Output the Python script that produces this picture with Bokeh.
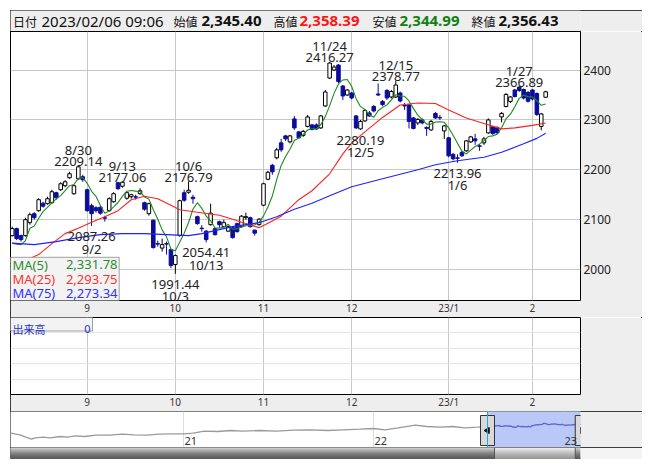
import math
import pandas as pd
from bokeh.plotting import figure
from bokeh.layouts import column
from bokeh.models import Range1d, FixedTicker, ColumnDataSource, Span
from bokeh.core.properties import value
from bokeh.embed import file_html
from bokeh.resources import INLINE

# ---------------- data ----------------
dates = [
 "2022-08-08","2022-08-09","2022-08-10","2022-08-12","2022-08-15","2022-08-16","2022-08-17","2022-08-18","2022-08-19",
 "2022-08-22","2022-08-23","2022-08-24","2022-08-25","2022-08-26","2022-08-29","2022-08-30","2022-08-31",
 "2022-09-01","2022-09-02","2022-09-05","2022-09-06","2022-09-07","2022-09-08","2022-09-09","2022-09-12","2022-09-13",
 "2022-09-14","2022-09-15","2022-09-16","2022-09-20","2022-09-21","2022-09-22","2022-09-26","2022-09-27","2022-09-28",
 "2022-09-29","2022-09-30",
 "2022-10-03","2022-10-04","2022-10-05","2022-10-06","2022-10-07","2022-10-11","2022-10-12","2022-10-13","2022-10-14",
 "2022-10-17","2022-10-18","2022-10-19","2022-10-20","2022-10-21","2022-10-24","2022-10-25","2022-10-26","2022-10-27",
 "2022-10-28","2022-10-31",
 "2022-11-01","2022-11-02","2022-11-04","2022-11-07","2022-11-08","2022-11-09","2022-11-10","2022-11-11","2022-11-14",
 "2022-11-15","2022-11-16","2022-11-17","2022-11-18","2022-11-21","2022-11-22","2022-11-24","2022-11-25","2022-11-28",
 "2022-11-29","2022-11-30",
 "2022-12-01","2022-12-02","2022-12-05","2022-12-06","2022-12-07","2022-12-08","2022-12-09","2022-12-12","2022-12-13",
 "2022-12-14","2022-12-15","2022-12-16","2022-12-19","2022-12-20","2022-12-21","2022-12-22","2022-12-23","2022-12-26",
 "2022-12-27","2022-12-28","2022-12-29","2022-12-30",
 "2023-01-04","2023-01-05","2023-01-06","2023-01-10","2023-01-11","2023-01-12","2023-01-13","2023-01-16","2023-01-17",
 "2023-01-18","2023-01-19","2023-01-20","2023-01-23","2023-01-24","2023-01-25","2023-01-26","2023-01-27","2023-01-30",
 "2023-01-31",
 "2023-02-01","2023-02-02","2023-02-03","2023-02-06",
]

opens = [2068,2082,2068,2068,2094,2112,2118,2133,2132,2134,2154,2160,2168,2184,2152,2182,2186,
 2160,2128,2124,2125,2104,2118,2136,2174,2167,2143,2146,2146,2152,2134,2112,2099,2052,2043,2052,2040,
 2010,2068,2154,2155,2145,2106,2083,2077,2090,2082,2096,2086,2077,2084,2092,2086,2104,2104,2079,2090,
 2129,2181,2209,2224,2254,2268,2256,2302,2276,2269,2287,2290,2290,2284,2328,2384,2400,2410,2368,2350,
 2354,2308,2282,2298,2314,2327,2352,2337,2359,2346,2346,2354,2329,2330,2304,2294,2300,2285,2280,2313,2305,2278,
 2264,2231,2224,2235,2238,2256,2262,2248,2254,2274,2286,2285,2306,2327,2337,2360,2366,2361,2355,
 2360,2353,2287,2345.40]
highs = [2086,2084,2070,2104,2114,2115,2143,2136,2146,2160,2156,2175,2179,2196,2170,2209.14,2190,
 2162,2132,2127,2128,2108,2145,2155,2176,2177.06,2156,2152,2150,2163,2136,2134,2100,2058,2062,2056,2042,
 2030,2140,2160,2176.79,2150,2108,2089,2079,2132,2084,2098,2100,2088,2086,2094,2109,2114,2106,2080,2103,
 2174,2198,2212,2244,2262,2270,2270,2308,2278,2280,2310,2292,2293,2310,2360,2416.27,2410,2412,2370,2362,
 2356,2310,2300,2322,2318,2330,2373,2340,2362,2360,2378.77,2357,2334,2332,2306,2304,2303,2287,2300,2316,2310,2290,
 2266,2234,2231,2238,2260,2268,2272,2252,2266,2303,2288,2287,2316,2354,2348,2362,2366.89,2363,2358,
 2362,2355,2314,2358.39]
lows = [2066,2059,2056,2066,2090,2100,2116,2124,2130,2132,2140,2158,2165,2182,2150,2180,2176,
 2116,2087.26,2114,2110,2096,2116,2134,2160,2164,2140,2142,2140,2150,2118,2108,2042,2046,2036,2030,2003,
 1991.44,2066,2136,2152,2132,2090,2076,2054.41,2088,2068,2084,2084,2075,2062,2074,2084,2100,2084,2068,2088,
 2127,2179,2190,2221,2236,2258,2253,2280,2262,2266,2285,2279,2280,2282,2326,2382,2398,2374,2340,2348,
 2341,2282,2280.19,2296,2306,2315,2348,2328,2340,2343,2344,2335,2320,2283,2281,2290,2291,2268,2278,2302,2300,2262,
 2225,2219,2213.96,2226,2236,2254,2250,2238,2250,2272,2270,2272,2295,2325,2334,2345,2356,2341,2335,
 2339,2308,2279,2344.99]
closes = [2082,2062,2060,2100,2110,2104,2140,2127,2142,2156,2144,2172,2176,2192,2168,2206,2180,
 2118,2112,2118,2113,2103,2142,2152,2162,2175,2154,2150,2145,2158,2121,2132,2044,2051,2050,2051,2008,
 2028,2138,2139,2159,2142,2092,2082,2060,2113,2070,2090,2094,2086,2064,2076,2107,2106,2086,2073,2101,
 2172,2195,2196,2240,2240,2262,2268,2284,2264,2277,2306,2281,2282,2308,2356,2414,2406,2377,2348,2360,
 2344,2284,2297,2319,2308,2318,2350,2331,2344,2357,2370,2338,2328,2297,2283,2301,2294,2283,2297,2304,2304,2288,
 2228,2222,2223,2228,2258,2266,2258,2247,2262,2300,2273,2274,2313,2351,2346,2347,2359,2344,2337.45,
 2342,2311,2312,2356.43]
quote_time = "09:06"

# MA(5) for the first four sessions (its history lies before the window)
ma5_head = [2053, 2051, 2050, 2058]
ma25_dates = ["2022-08-08","2022-08-12","2022-08-17","2022-08-22","2022-08-25","2022-08-30","2022-09-02","2022-09-07",
 "2022-09-12","2022-09-15","2022-09-21","2022-09-27","2022-09-30","2022-10-04","2022-10-11","2022-10-18","2022-10-21",
 "2022-10-26","2022-10-31","2022-11-02","2022-11-08","2022-11-14","2022-11-17","2022-11-24","2022-11-29","2022-12-01",
 "2022-12-06","2022-12-12","2022-12-16","2022-12-22","2022-12-28","2023-01-04","2023-01-11","2023-01-17","2023-01-23",
 "2023-01-26","2023-02-01","2023-02-06"]
ma25_vals = [2005,2018,2030,2052,2072,2083,2095,2106,2118,2140,2147,2142,2129,2120,2115,2109,2101,
 2092,2084,2093,2107,2140,2158,2192,2232,2254,2276,2305,2330,2334,2333,2320,2304,2293,2282,2284,2289,2293.75]
ma75_dates = ["2022-08-08","2022-08-16","2022-08-23","2022-08-30","2022-09-06","2022-09-13","2022-09-21","2022-09-29",
 "2022-10-06","2022-10-12","2022-10-18","2022-10-21","2022-10-31","2022-11-07","2022-11-11","2022-11-17","2022-11-24",
 "2022-12-01","2022-12-12","2022-12-16","2022-12-22","2022-12-28","2023-01-06","2023-01-17","2023-01-23","2023-01-30",
 "2023-02-02","2023-02-06"]
ma75_vals = [2053,2050,2056,2064,2070,2072,2072,2070,2068,2072,2080,2086,2094,2106,2121,2133,2148,
 2166,2182,2191,2200,2210,2218,2225,2235,2252,2263,2273.34]

hi_marks = ["2022-08-30","2022-09-13","2022-10-06","2022-11-24","2022-12-15","2023-01-27"]
lo_marks = ["2022-09-02","2022-10-03","2022-10-13","2022-12-05","2023-01-06"]

# navigator history (year, level) before the displayed window
nav_years = [2020.09,2020.14,2020.17,2020.20,2020.22,2020.26,2020.30,2020.35,2020.39,2020.43,2020.48,2020.54,
 2020.61,2020.68,2020.74,2020.81,2020.87,2020.94,2021.00,2021.05,2021.11,2021.18,2021.25,2021.31,2021.40,
 2021.49,2021.58,2021.67,2021.76,2021.84,2021.93,2022.00,2022.06,2022.13,2022.22,2022.28,2022.35,2022.42,
 2022.48,2022.55]
nav_vals = [1430,1270,1030,830,970,1030,970,1100,1030,1170,1100,1230,1230,1330,1270,1230,1330,1370,1370,1430,
 1630,1600,1700,1630,1700,1630,1730,1770,1700,1770,1830,1900,1770,1970,2230,2100,2030,2100,1970,2030]
nav_year_ticks = [2021, 2022, 2023]

# ---------------- layout constants ----------------
W = 632
RB = 62                      # right border (axis area)
X0, X1 = -0.39, 128.9
Y0, Y1 = 1937.9, 2477.3
FL, FT, FW, FH = 10, 31, 570, 272
def mx(px):
    return X0 + (px - FL) * (X1 - X0) / FW
def my(py):
    return Y1 - (py - FT) * (Y1 - Y0) / FH

FONT = value("Noto Sans")
JFONT = value("Noto Sans CJK JP")
UP_LINE, DOWN = "#000000", "#0c0c9a"
GRID = "#c8c8c8"
BAND = "#eeeeee"
BOX = {"outline": "1px solid #000", "outline-offset": "-1px"}

n = len(dates)
idx = list(range(n))
idx_of = {d: i for i, d in enumerate(dates)}

def md(d):
    ts = pd.Timestamp(d)
    return f"{ts.month}/{ts.day}"

def yr(d):
    ts = pd.Timestamp(d)
    nd = 366 if ts.is_leap_year else 365
    return ts.year + (ts.dayofyear - 1) / nd

month_idx = [i for i in range(1, n) if dates[i][5:7] != dates[i - 1][5:7]]
month_lab = {}
for i in month_idx:
    ts = pd.Timestamp(dates[i])
    month_lab[i] = f"{ts.year % 100}/{ts.month}" if ts.month == 1 else f"{ts.month}"

common = dict(output_backend="svg", toolbar_location=None, min_border_left=0, min_border_top=0,
              min_border_right=RB)

# ---------------- header ----------------
h = figure(width=W, height=21, x_range=Range1d(0, FW), y_range=Range1d(0, 21),
           x_axis_location=None, y_axis_location=None, min_border_bottom=0,
           background_fill_color=BAND, border_fill_color=BAND, outline_line_color=None,
           styles=BOX, **common)
h.grid.visible = False
fmt = lambda v: f"{v:,.2f}"
head = [
    ("日付", 2.5, "#111111", "normal", "12px", JFONT),
    (dates[-1].replace("-", "/") + " " + quote_time, 31, "#111111", "normal", "15px", FONT),
    ("始値", 163, "#111111", "normal", "12px", JFONT),
    (fmt(opens[-1]), 191, "#111111", "bold", "15px", FONT),
    ("高値", 263, "#111111", "normal", "12px", JFONT),
    (fmt(highs[-1]), 289, "#ff1414", "bold", "15px", FONT),
    ("安値", 362, "#111111", "normal", "12px", JFONT),
    (fmt(lows[-1]), 389, "#138013", "bold", "15px", FONT),
    ("終値", 461, "#111111", "normal", "12px", JFONT),
    (fmt(closes[-1]), 488, "#111111", "bold", "15px", FONT),
]
for txt, x, col, wt, sz, fnt in head:
    h.text(x=[x], y=[10.5], text=[txt], text_color=col, text_font=fnt, text_font_size=sz,
           text_font_style=wt, text_align="left", text_baseline="middle")

# ---------------- main price panel ----------------
p = figure(width=W, height=286, x_range=Range1d(X0, X1), y_range=Range1d(Y0, Y1),
           y_axis_location="right", x_axis_location="below", min_border_bottom=14,
           background_fill_color="white", border_fill_color=BAND, outline_line_color="#000000",
           **common)

def style_xaxis(fig):
    xa = fig.xaxis[0]
    xa.ticker = FixedTicker(ticks=month_idx)
    xa.major_label_overrides = {i: lab for i, lab in month_lab.items()}
    xa.major_label_text_align = "left"
    xa.major_tick_line_color = None
    xa.minor_tick_line_color = None
    xa.major_tick_out = 0
    xa.major_tick_in = 0
    xa.minor_tick_out = 0
    xa.axis_line_color = None
    xa.major_label_standoff = 0
    xa.major_label_text_font_size = "10px"
    xa.major_label_text_font = "Noto Sans"
    xa.major_label_text_color = "#333333"
    fig.xgrid.grid_line_color = GRID

style_xaxis(p)
ya = p.yaxis[0]
ya.ticker = FixedTicker(ticks=[2000, 2100, 2200, 2300, 2400])
ya.major_tick_line_color = None
ya.minor_tick_line_color = None
ya.major_tick_out = 0
ya.major_tick_in = 0
ya.axis_line_color = None
ya.major_label_standoff = 3
ya.major_label_text_font_size = "12px"
ya.major_label_text_font = "Noto Sans"
ya.major_label_text_color = "#222222"
p.ygrid.grid_line_color = GRID

up = [c >= o for o, c in zip(opens, closes)]
src = ColumnDataSource(dict(
    x=idx, o=opens, h=highs, l=lows, c=closes,
    top=[max(o, c) for o, c in zip(opens, closes)],
    bottom=[min(o, c) for o, c in zip(opens, closes)],
    line=[UP_LINE if u else DOWN for u in up],
    fill=["#ffffff" if u else DOWN for u in up],
))
p.segment(x0="x", y0="l", x1="x", y1="h", line_color="line", line_width=1, source=src)
p.vbar(x="x", top="top", bottom="bottom", width=0.8, fill_color="fill", line_color="line",
       line_width=1, source=src)

ma5 = list(ma5_head) + list(pd.Series(closes).rolling(5).mean().iloc[4:])
p.line(idx, ma5, line_color="#1f8a1f", line_width=1.1)
p.line([idx_of[d] for d in ma25_dates], ma25_vals, line_color="#ff2020", line_width=1.1)
p.line([idx_of[d] for d in ma75_dates], ma75_vals, line_color="#2020ff", line_width=1.1)

hs = ColumnDataSource(dict(x=[idx_of[d] for d in hi_marks], y=[highs[idx_of[d]] for d in hi_marks],
                           v=[f"{highs[idx_of[d]]:.2f}" for d in hi_marks], d=[md(d) for d in hi_marks]))
ls = ColumnDataSource(dict(x=[idx_of[d] for d in lo_marks], y=[lows[idx_of[d]] for d in lo_marks],
                           v=[f"{lows[idx_of[d]]:.2f}" for d in lo_marks], d=[md(d) for d in lo_marks]))
lab_kw = dict(text_font=FONT, text_font_size="13px", text_color="#222222",
              text_align="center", text_baseline="alphabetic")
p.text(x="x", y="y", text="v", source=hs, y_offset=-4, **lab_kw)
p.text(x="x", y="y", text="d", source=hs, y_offset=-15.5, **lab_kw)
p.text(x="x", y="y", text="v", source=ls, y_offset=10.6, **lab_kw)
p.text(x="x", y="y", text="d", source=ls, y_offset=22.6, **lab_kw)

p.quad(left=[mx(10)], right=[mx(118.7)], bottom=[Y0], top=[my(259.3)],
       fill_color="#f3f3f3", line_color="#a0a0a0", line_width=1)
ma_names = ["MA(5)", "MA(25)", "MA(75)"]
ma_last = [ma5[-1], ma25_vals[-1], ma75_vals[-1]]
ma_cols = ["#2e8b2e", "#ff3030", "#3030ff"]
rows_py = [266.7, 281.5, 295.5]
for name, val, col, py in zip(ma_names, ma_last, ma_cols, rows_py):
    p.text(x=[mx(12)], y=[my(py)], text=[name], text_color=col, text_font=FONT, text_font_size="13px",
           text_align="left", text_baseline="middle")
    p.text(x=[mx(117)], y=[my(py)], text=[f"{val:,.2f}"], text_color=col, text_font=FONT,
           text_font_size="13px", text_align="right", text_baseline="middle")

# ---------------- volume panel ----------------
v = figure(width=W, height=94, x_range=p.x_range, y_range=Range1d(0, 1),
           y_axis_location=None, x_axis_location="below", min_border_bottom=14,
           background_fill_color="white", border_fill_color=BAND, outline_line_color="#000000",
           **common)
style_xaxis(v)
def vy(py):
    return 1 - (py - 317) / 80
v.quad(left=[mx(10)], right=[mx(92)], bottom=[vy(331)], top=[1],
       fill_color="#f3f3f3", line_color="#a0a0a0")
v.text(x=[mx(12)], y=[vy(329)], text=["出来高"], text_color="#2233cc", text_font=JFONT,
       text_font_size="11px", text_align="left", text_baseline="alphabetic")
v.text(x=[mx(90)], y=[vy(329)], text=["0"], text_color="#2233cc", text_font=FONT,
       text_font_size="11px", text_align="right", text_baseline="alphabetic")

# ---------------- navigator ----------------
NX0, NX1 = 2020.0895, 2023.0895
first_year, last_year = yr(dates[0]), yr(dates[-1])
nv = figure(width=W, height=36, x_range=Range1d(NX0, NX1), y_range=Range1d(0, 3600),
            x_axis_location=None, y_axis_location=None, min_border_bottom=0,
            background_fill_color="white", border_fill_color=BAND, outline_line_color=None,
            styles=BOX, **common)
nv.grid.visible = False
nv.segment(x0=nav_year_ticks, y0=[0] * 3, x1=nav_year_ticks, y1=[3600] * 3, line_color="#dddddd")
nv.quad(left=[first_year], right=[last_year], bottom=[0], top=[3600], fill_color="#b9c8f6",
        line_color=None)
nv.line(nav_years + [first_year], nav_vals + [closes[0]], line_color="#9a9a9a", line_width=1.3)
nv.line([yr(d) for d in dates], closes, line_color="#5a66cc", line_width=1.3)
for yv in (first_year, last_year):
    nv.add_layout(Span(location=yv, dimension="height", line_color="#1ea8e0", line_width=1))
HW = 14 / 190
nv.rect(x=[first_year, last_year], y=[1700, 1700], width=HW, height=3000,
        fill_color="#d9d9d9", line_color="#333333")
nv.scatter(x=[first_year, last_year], y=[1700, 1700], marker="triangle", size=6,
           angle=[math.pi / 2, -math.pi / 2], color="#111111")
nv.text(x=nav_year_ticks, y=[700] * 3, text=[f"{y % 100}" for y in nav_year_ticks], x_offset=1,
        text_font=FONT, text_font_size="11px", text_color="#333333",
        text_align="left", text_baseline="middle")

# ---------------- scrollbar ----------------
sb = figure(width=W, height=12, x_range=nv.x_range, y_range=Range1d(0, 12),
            x_axis_location=None, y_axis_location=None, min_border_bottom=0,
            background_fill_color="#f4f4f4", border_fill_color="#f4f4f4", outline_line_color=None,
            styles=BOX, **common)
sb.grid.visible = False
track_cols = ["#c8c8c8", "#b4b4b4", "#a0a0a0", "#8c8c8c", "#7a7a7a", "#686868",
              "#585858", "#4a4a4a", "#3e3e3e", "#343434", "#2c2c2c", "#262626"]
thumb_cols = ["#fafafa", "#f2f2f2", "#eaeaea", "#e2e2e2", "#dadada", "#d2d2d2",
              "#cacaca", "#c2c2c2", "#bcbcbc", "#b6b6b6", "#b0b0b0", "#aaaaaa"]
rows = [11.5 - k for k in range(12)]
sb.hbar(y=rows, left=NX0, right=last_year, height=1, fill_color=track_cols, line_color=None)
tl, tr = first_year + HW / 2, last_year - HW / 2
sb.hbar(y=rows, left=tl, right=tr, height=1, fill_color=thumb_cols, line_color=None)
sb.quad(left=[tl], right=[tr], bottom=[0], top=[12], fill_color=None, line_color="#555555")

layout = column(h, p, v, nv, sb, spacing=0, margin=(10, 0, 0, 10), styles=BOX)

open("out.html", "w").write(file_html(layout, INLINE))
